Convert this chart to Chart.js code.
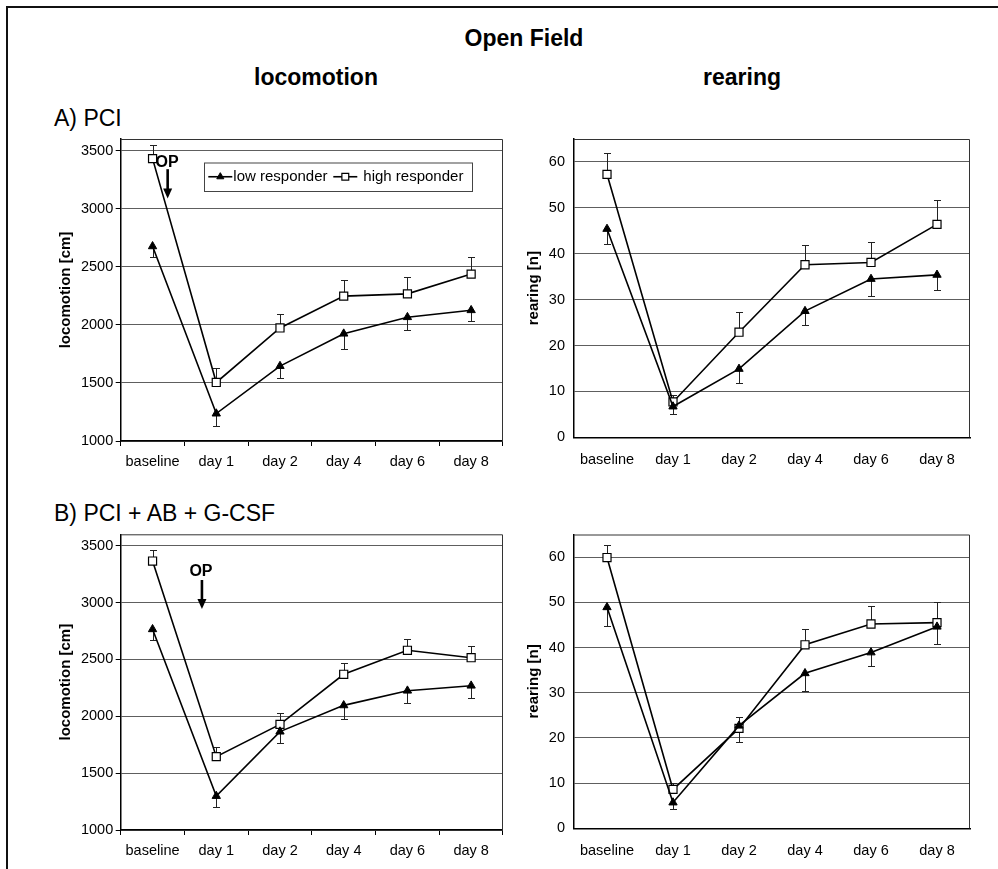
<!DOCTYPE html>
<html>
<head>
<meta charset="utf-8">
<title>Open Field</title>
<script src="https://cdn.jsdelivr.net/npm/chart.js@4.4.0/dist/chart.umd.min.js"></script>
<style>
  html, body { margin: 0; padding: 0; background: #fff; width: 998px; height: 869px; overflow: hidden; }
  #frame { position: absolute; left: 6px; top: 6px; width: 1000px; height: 900px; border-left: 2px solid #111; border-top: 2px solid #111; }
  canvas { position: absolute; left: 0; top: 0; }
  .lbl { position: absolute; font-family: "Liberation Sans", Arial, sans-serif; font-size: 23px; line-height: 23px; white-space: nowrap; color: #000; }
  .b { font-weight: bold; }
  .c { transform: translateX(-50%); }
</style>
</head>
<body>
<div id="frame"></div>
<div class="lbl b c" style="left:524px; top:26.5px;">Open Field</div>
<div class="lbl b c" style="left:316px; top:65.5px;">locomotion</div>
<div class="lbl b c" style="left:742px; top:65.5px;">rearing</div>
<div class="lbl" style="left:54px; top:107px;">A) PCI</div>
<div class="lbl" style="left:54px; top:502px;">B) PCI + AB + G-CSF</div>

<canvas id="pciLoco" width="998" height="869"></canvas>
<canvas id="pciRear" width="998" height="869"></canvas>
<canvas id="gcsfLoco" width="998" height="869"></canvas>
<canvas id="gcsfRear" width="998" height="869"></canvas>

<script>
// Данные
const categories = ['baseline', 'day 1', 'day 2', 'day 4', 'day 6', 'day 8'];
const seriesLabels = ['low responder', 'high responder'];
const locoTicks = [1000, 1500, 2000, 2500, 3000, 3500];
const rearTicks = [0, 10, 20, 30, 40, 50, 60];

// A) PCI - locomotion [cm]
const pciLocoLow = [2676, 1236, 1645, 1924, 2066, 2126];
const pciLocoLowErr = [90, 105, 105, 130, 110, 95];
const pciLocoHigh = [3431, 1504, 1973, 2247, 2267, 2437];
const pciLocoHighErr = [118, 125, 120, 140, 145, 150];

// A) PCI - rearing [n]
const pciRearLow = [45.4, 6.7, 14.9, 27.5, 34.5, 35.4];
const pciRearLowErr = [3.2, 1.6, 3.1, 3.1, 3.8, 3.2];
const pciRearHigh = [57.3, 7.7, 22.9, 37.6, 38.1, 46.4];
const pciRearHighErr = [4.6, 1.6, 4.4, 4.4, 4.5, 5.3];

// B) PCI + AB + G-CSF - locomotion [cm]
const gcsfLocoLow = [2765, 1299, 1865, 2096, 2225, 2269];
const gcsfLocoLowErr = [94, 94, 97, 120, 108, 111];
const gcsfLocoHigh = [3365, 1645, 1929, 2369, 2580, 2515];
const gcsfLocoHighErr = [100, 88, 97, 97, 99, 106];

// B) PCI + AB + G-CSF - rearing [n]
const gcsfRearLow = [48.9, 5.7, 22.7, 34.3, 38.9, 44.6];
const gcsfRearLowErr = [4.1, 1.4, 3.5, 4.0, 3.0, 3.9];
const gcsfRearHigh = [59.9, 8.6, 22.1, 40.6, 45.2, 45.5];
const gcsfRearHighErr = [2.8, 1.4, 2.6, 3.5, 4.0, 4.5];

const FONT = '"Liberation Sans", Arial, sans-serif';
Chart.defaults.font.family = FONT;
Chart.defaults.color = '#000';

// Рамка области графика (верх и право)
const plotFrame = {
  id: 'plotFrame',
  beforeDatasetsDraw(chart) {
    const { ctx, chartArea: { left, top, right, bottom } } = chart;
    ctx.save();
    ctx.strokeStyle = '#333';
    ctx.lineWidth = 1;
    ctx.beginPath();
    ctx.moveTo(left, top + 0.5);
    ctx.lineTo(right - 0.5, top + 0.5);
    ctx.lineTo(right - 0.5, bottom);
    ctx.stroke();
    ctx.restore();
  },
};

// Планки погрешностей: high - вверх, low - вниз
const errorBars = {
  id: 'errorBars',
  beforeDatasetsDraw(chart) {
    const { ctx, scales: { y } } = chart;
    ctx.save();
    ctx.strokeStyle = '#222';
    ctx.lineWidth = 1;
    chart.data.datasets.forEach((ds, di) => {
      const meta = chart.getDatasetMeta(di);
      ds.errors.forEach((err, i) => {
        const x = Math.round(meta.data[i].x) + 0.5;
        const y0 = y.getPixelForValue(ds.data[i]);
        const y1 = Math.round(y.getPixelForValue(ds.data[i] + ds.errDir * err)) + 0.5;
        ctx.beginPath();
        ctx.moveTo(x, y0);
        ctx.lineTo(x, y1);
        ctx.moveTo(x - 3.5, y1);
        ctx.lineTo(x + 3.5, y1);
        ctx.stroke();
      });
    });
    ctx.restore();
  },
};

// Стрелка "OP"
const opMarker = {
  id: 'opMarker',
  afterDatasetsDraw(chart, args, opts) {
    if (!opts || opts.at === undefined) return;
    const { ctx, scales: { x, y } } = chart;
    const px = x.getPixelForValue(opts.at);
    const yText = y.getPixelForValue(opts.textValue);
    const yFrom = y.getPixelForValue(opts.from);
    const yTo = y.getPixelForValue(opts.to);
    ctx.save();
    ctx.fillStyle = '#000';
    ctx.strokeStyle = '#000';
    ctx.font = 'bold 16px ' + FONT;
    ctx.textAlign = 'center';
    ctx.textBaseline = 'middle';
    ctx.fillText('OP', px + opts.textShift, yText);
    ctx.lineWidth = 2.6;
    ctx.beginPath();
    ctx.moveTo(px, yFrom);
    ctx.lineTo(px, yTo - 8);
    ctx.stroke();
    ctx.beginPath();
    ctx.moveTo(px - 4.5, yTo - 10);
    ctx.lineTo(px + 4.5, yTo - 10);
    ctx.lineTo(px, yTo);
    ctx.closePath();
    ctx.fill();
    ctx.restore();
  },
};

// Легенда в рамке внутри графика
const boxLegend = {
  id: 'boxLegend',
  afterDraw(chart, args, opts) {
    if (!opts || !opts.box) return;
    const { ctx } = chart;
    const { left, top, width, height } = opts.box;
    ctx.save();
    ctx.fillStyle = '#fff';
    ctx.fillRect(left, top, width, height);
    ctx.strokeStyle = '#444';
    ctx.lineWidth = 1;
    ctx.strokeRect(left + 0.5, top + 0.5, width, height);
    const cy = top + height / 2;
    ctx.font = '15px ' + FONT;
    ctx.textBaseline = 'middle';
    ctx.textAlign = 'left';
    chart.data.datasets.forEach((ds, i) => {
      const item = opts.items[i];
      const x0 = left + item.line;
      ctx.strokeStyle = '#000';
      ctx.lineWidth = 1.6;
      ctx.beginPath();
      ctx.moveTo(x0, cy);
      ctx.lineTo(x0 + 24, cy);
      ctx.stroke();
      ctx.fillStyle = ds.pointBackgroundColor;
      ctx.strokeStyle = '#000';
      ctx.lineWidth = ds.pointBorderWidth;
      Chart.helpers.drawPoint(ctx, {
        pointStyle: ds.pointStyle,
        radius: ds.pointRadius * 0.85,
        rotation: 0,
        borderWidth: ds.pointBorderWidth,
      }, x0 + 12, cy);
      ctx.fillStyle = '#000';
      ctx.fillText(ds.label, left + item.text, cy);
    });
    ctx.restore();
  },
};

function createPanel(canvasId, cfg) {
  const canvas = document.getElementById(canvasId);
  const W = canvas.width;
  const H = canvas.height;
  const area = cfg.area;
  const scaleLeft = cfg.titleX - 9;
  const xHeight = 40;

  const plugins = [plotFrame, errorBars, opMarker];
  if (cfg.legendBox) plugins.push(boxLegend);

  try {
    return new Chart(canvas, {
      type: 'line',
      data: {
        labels: categories,
        datasets: [
          {
            label: seriesLabels[0],
            data: cfg.low,
            errors: cfg.lowErr,
            errDir: -1,
            borderColor: '#000',
            borderWidth: 1.6,
            tension: 0,
            fill: false,
            clip: false,
            pointStyle: 'triangle',
            pointRadius: 4.8,
            pointBackgroundColor: '#000',
            pointBorderColor: '#000',
            pointBorderWidth: 1,
          },
          {
            label: seriesLabels[1],
            data: cfg.high,
            errors: cfg.highErr,
            errDir: 1,
            borderColor: '#000',
            borderWidth: 1.6,
            tension: 0,
            fill: false,
            clip: false,
            pointStyle: 'rect',
            pointRadius: 5.7,
            pointBackgroundColor: '#fff',
            pointBorderColor: '#000',
            pointBorderWidth: 1.2,
          },
        ],
      },
      options: {
        responsive: false,
        animation: false,
        devicePixelRatio: 1,
        events: [],
        layout: {
          padding: {
            left: scaleLeft,
            top: area.top,
            right: W - area.right,
            bottom: H - area.bottom - xHeight,
          },
        },
        plugins: {
          legend: { display: false },
          tooltip: { enabled: false },
          opMarker: cfg.op || {},
          boxLegend: cfg.legendBox
            ? { box: cfg.legendBox, items: [{ line: 4.3, text: 29.3 }, { line: 129.3, text: 159.3 }] }
            : {},
        },
        scales: {
          x: {
            offset: true,
            grid: {
              display: true,
              offset: true,
              drawOnChartArea: false,
              drawTicks: cfg.xTicks,
              tickLength: 5,
              tickColor: '#000',
            },
            border: { color: '#000', width: 1.5 },
            ticks: {
              font: { size: 14.5 },
              color: '#000',
              padding: cfg.xPad,
              maxRotation: 0,
              autoSkip: false,
            },
            afterFit(scale) {
              scale.height = xHeight;
            },
          },
          y: {
            min: cfg.yMin,
            max: cfg.yMax,
            afterBuildTicks(scale) {
              scale.ticks = cfg.yTickValues.map((v) => ({ value: v }));
            },
            grid: {
              color: '#5e5e5e',
              lineWidth: 1,
              drawTicks: cfg.yTicks,
              tickLength: 5,
              tickColor: '#000',
            },
            border: { color: '#000', width: 1.5 },
            ticks: {
              font: { size: 14.5 },
              color: '#000',
              padding: cfg.yPad,
              autoSkip: false,
              callback: (v) => String(v),
            },
            title: {
              display: true,
              text: cfg.yTitle,
              font: { size: 15, weight: 'bold' },
              padding: 0,
              color: '#000',
            },
            afterFit(scale) {
              scale.width = area.left - scaleLeft;
            },
          },
        },
      },
      plugins,
    });
  } catch (error) {
    console.error('Chart error:', error);
    return null;
  }
}

createPanel('pciLoco', {
  area: { left: 120.7, top: 139, right: 503, bottom: 441 },
  titleX: 65.5,
  yTitle: 'locomotion [cm]',
  yMin: 1000, yMax: 3600, yTickValues: locoTicks,
  xTicks: true, xPad: 7.5, yTicks: true, yPad: 2.5,
  low: pciLocoLow, lowErr: pciLocoLowErr,
  high: pciLocoHigh, highErr: pciLocoHighErr,
  op: { at: 0.237, textShift: -0.5, textValue: 3400, from: 3340, to: 3088 },
  legendBox: { left: 204, top: 162.5, width: 268, height: 28.5 },
});

createPanel('pciRear', {
  area: { left: 574, top: 139, right: 970, bottom: 437.3 },
  titleX: 533.5,
  yTitle: 'rearing [n]',
  yMin: 0, yMax: 65, yTickValues: rearTicks,
  xTicks: false, xPad: 14, yTicks: false, yPad: 9,
  low: pciRearLow, lowErr: pciRearLowErr,
  high: pciRearHigh, highErr: pciRearHighErr,
});

createPanel('gcsfLoco', {
  area: { left: 120.7, top: 534.3, right: 503, bottom: 830 },
  titleX: 65.5,
  yTitle: 'locomotion [cm]',
  yMin: 1000, yMax: 3600, yTickValues: locoTicks,
  xTicks: true, xPad: 7, yTicks: true, yPad: 2.5,
  low: gcsfLocoLow, lowErr: gcsfLocoLowErr,
  high: gcsfLocoHigh, highErr: gcsfLocoHighErr,
  op: { at: 0.775, textShift: -1, textValue: 3269, from: 3198, to: 2943 },
});

createPanel('gcsfRear', {
  area: { left: 574, top: 534.5, right: 970, bottom: 828.3 },
  titleX: 533.5,
  yTitle: 'rearing [n]',
  yMin: 0, yMax: 65, yTickValues: rearTicks,
  xTicks: false, xPad: 13.5, yTicks: false, yPad: 9,
  low: gcsfRearLow, lowErr: gcsfRearLowErr,
  high: gcsfRearHigh, highErr: gcsfRearHighErr,
});
</script>
</body>
</html>
